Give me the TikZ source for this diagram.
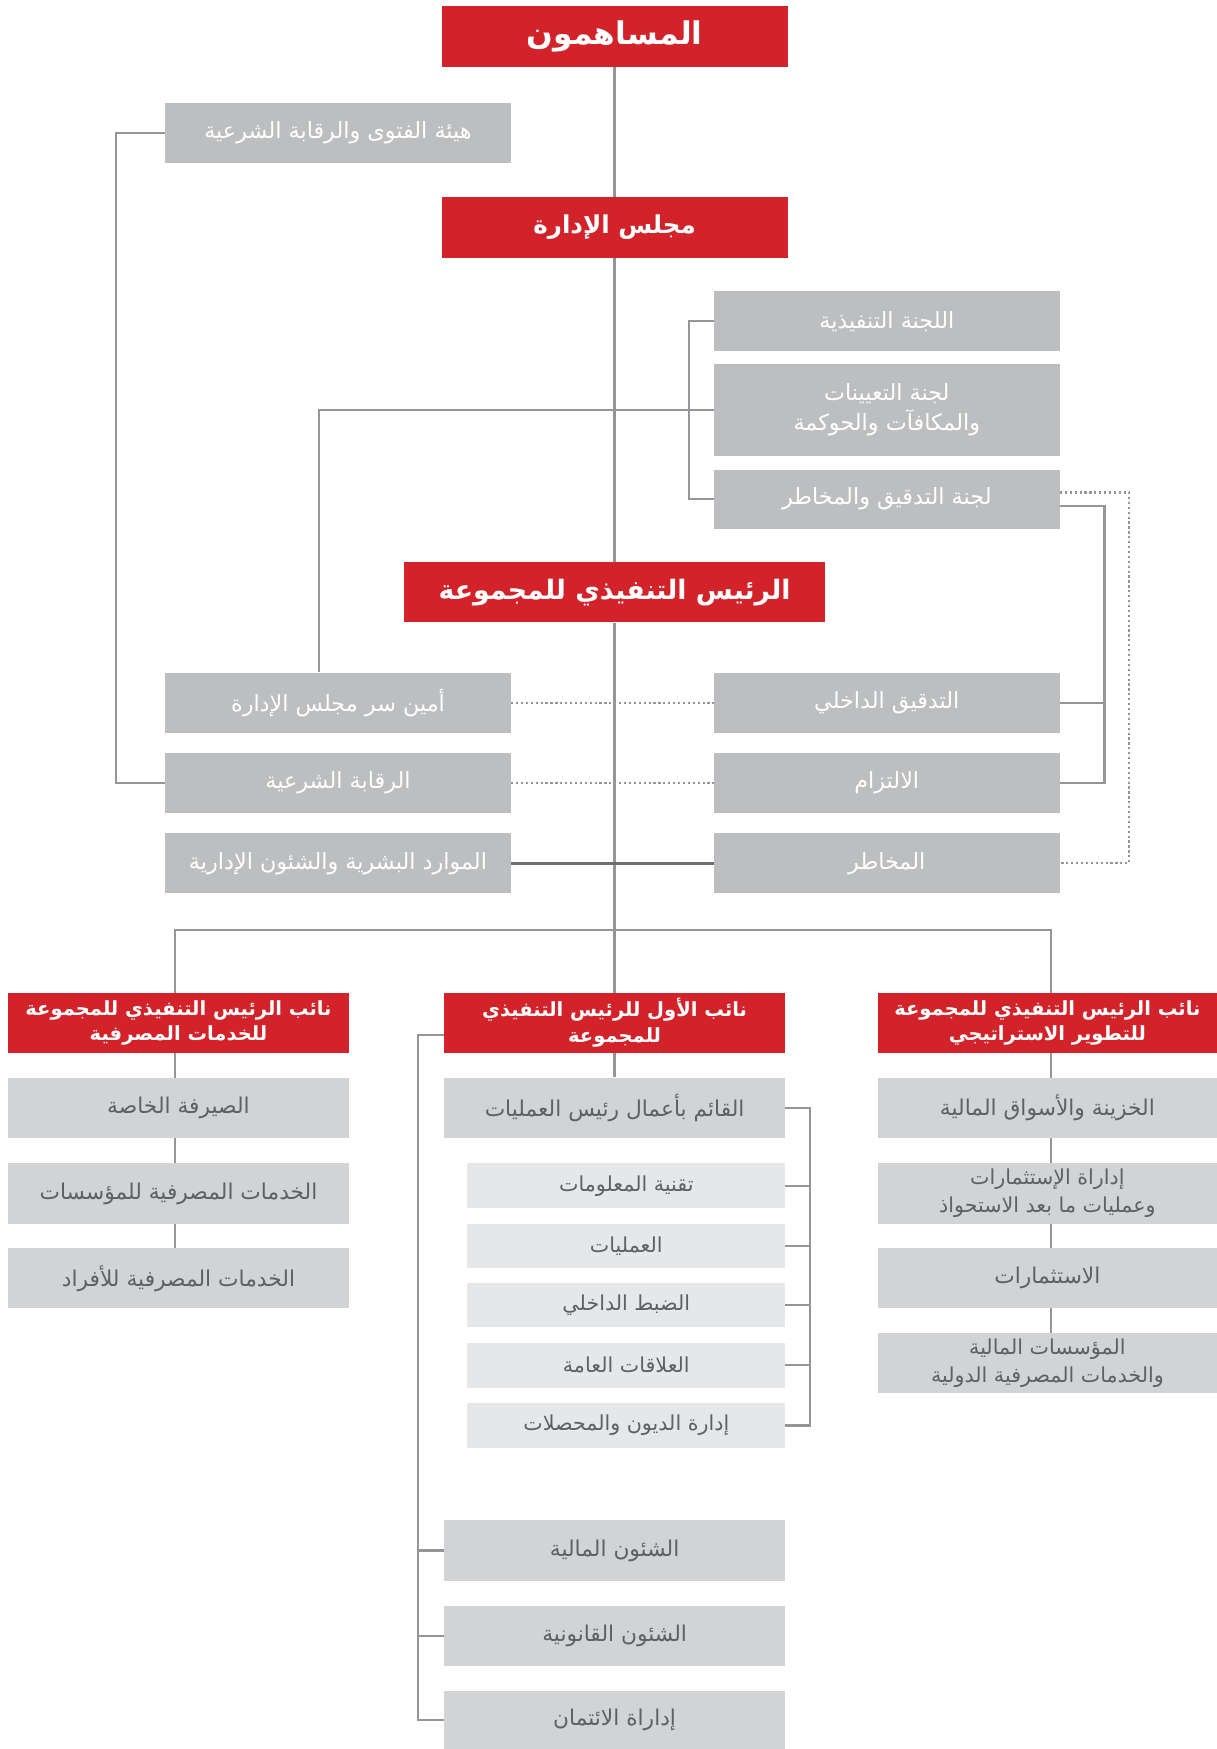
\documentclass[tikz,border=0pt]{standalone}
\usepackage{fontspec}
\newfontfamily\arabicfont[Script=Arabic]{DejaVu Sans}
\TeXXeTstate=1
\usetikzlibrary{backgrounds}
\definecolor{cred}{RGB}{210,35,42}
\definecolor{cgrayA}{RGB}{188,190,192}
\definecolor{cgrayB}{RGB}{209,211,212}
\definecolor{cgrayC}{RGB}{230,231,232}
\definecolor{cline}{RGB}{147,149,152}
\definecolor{cdark}{RGB}{109,110,113}
\definecolor{ctext}{RGB}{95,96,98}
\newcommand\artext[1]{\beginR #1\endR}
\tikzset{
  box/.style={rectangle, inner sep=0pt, align=center, font=\arabicfont\fontsize{19.5}{25}\selectfont},
  redbox/.style={box, fill=cred, text=white},
  deputy/.style={redbox, font=\arabicfont\bfseries\fontsize{17.5}{23}\selectfont},
  gbox/.style={box, fill=cgrayA, text=white, font=\arabicfont\fontsize{20}{27}\selectfont},
  lbox/.style={box, fill=cgrayB, text=ctext},
  xbox/.style={box, fill=cgrayC, text=ctext, font=\arabicfont\fontsize{18.5}{24}\selectfont},
  conn/.style={draw=cline, line width=2pt},
  dotconn/.style={draw=cline, line width=2pt, dash pattern=on 2pt off 2.4pt},
  darkconn/.style={draw=cdark, line width=2.6pt}
}
\begin{document}
\begin{tikzpicture}[x=1pt,y=-1pt]
\useasboundingbox (0,0) rectangle (1091,1568);
% top part
\node[redbox, minimum width=310, minimum height=55, font=\arabicfont\bfseries\fontsize{28}{32}\selectfont] (sh) at (551,32.5) {\artext{المساهمون}};
\node[gbox, minimum width=310, minimum height=54] (fatwa) at (303,119) {\artext{هيئة الفتوى والرقابة الشرعية}};
\node[redbox, minimum width=310, minimum height=54, font=\arabicfont\bfseries\fontsize{22}{26}\selectfont] (board) at (551,204) {\artext{مجلس الإدارة}};
\node[gbox, minimum width=310, minimum height=54] (exec) at (795,288) {\artext{اللجنة التنفيذية}};
\node[gbox, minimum width=310, minimum height=83] (nom) at (795,367.5) {\artext{لجنة التعيينات}\\\artext{والمكافآت والحوكمة}};
\node[gbox, minimum width=310, minimum height=53] (audit) at (795,447.5) {\artext{لجنة التدقيق والمخاطر}};
\node[redbox, minimum width=378, minimum height=54, font=\arabicfont\bfseries\fontsize{24}{28}\selectfont] (ceo) at (551,531) {\artext{الرئيس التنفيذي للمجموعة}};
\node[gbox, minimum width=310, minimum height=54] (sec) at (303,630) {\artext{أمين سر مجلس الإدارة}};
\node[gbox, minimum width=310, minimum height=54] (ia) at (795,630) {\artext{التدقيق الداخلي}};
\node[gbox, minimum width=310, minimum height=54] (shariah) at (303,702) {\artext{الرقابة الشرعية}};
\node[gbox, minimum width=310, minimum height=54] (comp) at (795,702) {\artext{الالتزام}};
\node[gbox, minimum width=310, minimum height=54] (hr) at (303,774) {\artext{الموارد البشرية والشئون الإدارية}};
\node[gbox, minimum width=310, minimum height=54] (risk) at (795,774) {\artext{المخاطر}};
% deputies
\node[deputy, minimum width=306, minimum height=54] (dA) at (160,917) {\artext{نائب الرئيس التنفيذي للمجموعة}\\\artext{للخدمات المصرفية}};
\node[deputy, minimum width=306, minimum height=54] (dB) at (551,917) {\artext{نائب الأول للرئيس التنفيذي}\\\artext{للمجموعة}};
\node[deputy, minimum width=304, minimum height=54] (dC) at (939,917) {\artext{نائب الرئيس التنفيذي للمجموعة}\\\artext{للتطوير الاستراتيجي}};
% left column
\node[lbox, minimum width=306, minimum height=54] (pb) at (160,993) {\artext{الصيرفة الخاصة}};
\node[lbox, minimum width=306, minimum height=54] (ib) at (160,1070) {\artext{الخدمات المصرفية للمؤسسات}};
\node[lbox, minimum width=306, minimum height=54] (rb) at (160,1146) {\artext{الخدمات المصرفية للأفراد}};
% middle column
\node[lbox, minimum width=306, minimum height=54] (coo) at (551,993) {\artext{القائم بأعمال رئيس العمليات}};
\node[xbox, minimum width=285, minimum height=40] (it) at (561.5,1063) {\artext{تقنية المعلومات}};
\node[xbox, minimum width=285, minimum height=40] (ops) at (561.5,1117) {\artext{العمليات}};
\node[xbox, minimum width=285, minimum height=40] (ic) at (561.5,1170) {\artext{الضبط الداخلي}};
\node[xbox, minimum width=285, minimum height=40] (pr) at (561.5,1224) {\artext{العلاقات العامة}};
\node[xbox, minimum width=285, minimum height=40] (dc) at (561.5,1278) {\artext{إدارة الديون والمحصلات}};
\node[lbox, minimum width=306, minimum height=54] (fin) at (551,1390) {\artext{الشئون المالية}};
\node[lbox, minimum width=306, minimum height=54] (legal) at (551,1467) {\artext{الشئون القانونية}};
\node[lbox, minimum width=306, minimum height=52] (credit) at (551,1542) {\artext{إداراة الائتمان}};
% right column
\node[lbox, minimum width=304, minimum height=54] (tr) at (939,993) {\artext{الخزينة والأسواق المالية}};
\node[lbox, minimum width=304, minimum height=54, font=\arabicfont\fontsize{18.5}{25}\selectfont] (inv) at (939,1070) {\artext{إداراة الإستثمارات}\\\artext{وعمليات ما بعد الاستحواذ}};
\node[lbox, minimum width=304, minimum height=54] (invs) at (939,1146) {\artext{الاستثمارات}};
\node[lbox, minimum width=304, minimum height=54, font=\arabicfont\fontsize{18.5}{25}\selectfont] (fi) at (939,1222) {\artext{المؤسسات المالية}\\\artext{والخدمات المصرفية الدولية}};
% junction coordinates
\coordinate (barL) at (157,834);
\coordinate (barR) at (942,834);
\begin{scope}[on background layer]
  % trunk
  \draw[conn] (sh.south) -- (board.north);
  \draw[conn] (board.south) -- (ceo.north);
  \draw[conn] (ceo.south) -- (ceo.south |- barL) -- (dB.north);
  \draw[conn] (barL |- dA.north) -- (barL) -- (barR) -- (barR |- dC.north);
  % fatwa to shariah
  \draw[conn] (fatwa.west) -- ++(-44,0) |- (shariah.west);
  % committees bracket
  \draw[conn] (exec.west) -- ++(-22,0) |- (audit.west);
  \draw[conn] (nom.west) -| ([xshift=-17pt]sec.north);
  % audit committee to IA / compliance
  \draw[conn] ([yshift=-6pt]audit.east) -- ++(40,0) |- (comp.east);
  \draw[conn] (ia.east) -- ++(40,0);
  \draw[dotconn] ([yshift=6pt]audit.east) -- ++(62,0) |- (risk.east);
  % rows
  \draw[dotconn] (sec.east) -- (ia.west);
  \draw[dotconn] (shariah.east) -- (comp.west);
  \draw[darkconn] (hr.east) -- (risk.west);
  % left column
  \draw[conn] (barL |- dA.south) -- (barL |- rb.north);
  % middle column
  \draw[conn] (dB.south) -- (coo.north);
  \draw[conn] (coo.east) -- ++(22,0) |- (dc.east);
  \draw[conn] (it.east) -- ++(22,0);
  \draw[conn] (ops.east) -- ++(22,0);
  \draw[conn] (ic.east) -- ++(22,0);
  \draw[conn] (pr.east) -- ++(22,0);
  \draw[conn] ([yshift=-11pt]dB.west) -- ++(-23,0) |- (credit.west);
  \draw[conn] (fin.west) -- ++(-23,0);
  \draw[conn] (legal.west) -- ++(-23,0);
  % right column
  \draw[conn] (barR |- dC.south) -- (barR |- fi.north);
\end{scope}
\end{tikzpicture}
\end{document}
